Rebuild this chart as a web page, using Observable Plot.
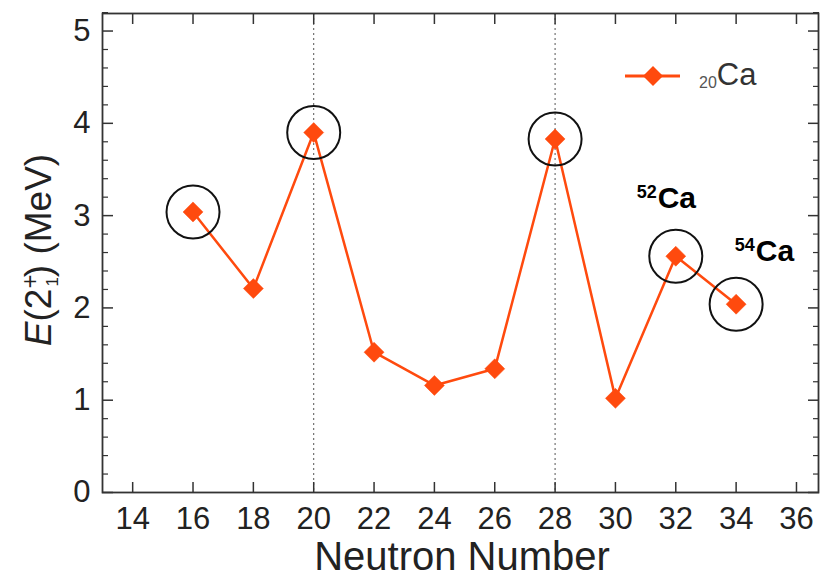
<!DOCTYPE html>
<html><head><meta charset="utf-8">
<script src="https://cdn.jsdelivr.net/npm/d3@7"></script>
<script src="https://cdn.jsdelivr.net/npm/@observablehq/plot@0.6"></script>
<style>
body{margin:0;background:#fff;}
#chart{position:relative;width:821px;height:579px;}
svg text{font-family:"Liberation Sans",Arial,Helvetica,sans-serif;}
</style>
</head><body><div id="chart"></div>
<script>
// Data: 2+ excitation energies of calcium isotopes
const neutrons = [16, 18, 20, 22, 24, 26, 28, 30, 32, 34];
const e2 = [3.04, 2.21, 3.90, 1.52, 1.16, 1.34, 3.83, 1.02, 2.56, 2.04];
const circledN = [16, 20, 28, 32, 34];
const magicN = [20, 28];
const xTicks = [14, 16, 18, 20, 22, 24, 26, 28, 30, 32, 34, 36];
const yTicks = [0, 1, 2, 3, 4, 5];
const yMinor = [0.2, 0.4, 0.6, 0.8, 1.2, 1.4, 1.6, 1.8, 2.2, 2.4, 2.6, 2.8, 3.2, 3.4, 3.6, 3.8, 4.2, 4.4, 4.6, 4.8, 5.2];
const isoLabelX = [31.4, 34.65];
const isoLabelY = [3.08, 2.51];
const isoMass = ["52", "54"];

const points = neutrons.map((n, i) => ({n, e: e2[i]}));
const circled = points.filter(d => circledN.includes(d.n));
const isoLabels = isoMass.map((m, i) => ({x: isoLabelX[i], y: isoLabelY[i], m}));

const orange = "#ff4a0e";
const axisCol = "#333";

const svg = Plot.plot({
  width: 821,
  height: 579,
  marginLeft: 102,
  marginRight: 3,
  marginTop: 13,
  marginBottom: 87,
  style: {fontFamily: '"Liberation Sans", Arial, Helvetica, sans-serif', background: "#fff"},
  x: {domain: [13, 36.73]},
  y: {domain: [0, 5.19]},
  marks: [
    Plot.ruleX(magicN, {stroke: "#555", strokeDasharray: "2,3", strokeWidth: 1}),
    // inward ticks
    Plot.axisX(xTicks, {anchor: "bottom", tickSize: 10, dy: -10, tickFormat: () => "", stroke: axisCol, strokeWidth: 1.5, label: null}),
    Plot.axisX(xTicks, {anchor: "top", tickSize: 10, dy: 10, tickFormat: () => "", stroke: axisCol, strokeWidth: 1.5, label: null}),
    Plot.axisY(yTicks, {anchor: "left", tickSize: 11, dx: 11, tickFormat: () => "", stroke: axisCol, strokeWidth: 1.5, label: null}),
    Plot.axisY(yMinor, {anchor: "left", tickSize: 6, dx: 6, tickFormat: () => "", stroke: axisCol, strokeWidth: 1.2, label: null}),
    Plot.axisY(yTicks, {anchor: "right", tickSize: 11, dx: -11, tickFormat: () => "", stroke: axisCol, strokeWidth: 1.5, label: null}),
    Plot.axisY(yMinor, {anchor: "right", tickSize: 6, dx: -6, tickFormat: () => "", stroke: axisCol, strokeWidth: 1.2, label: null}),
    // tick labels
    Plot.axisX(xTicks, {anchor: "bottom", tickSize: 0, tickPadding: 14, fontSize: 31, fill: "#222", tickFormat: d3.format("d"), label: null}),
    Plot.axisY(yTicks, {anchor: "left", tickSize: 0, tickPadding: 12, fontSize: 31, fill: "#222", tickFormat: d3.format("d"), label: null}),
    Plot.frame({stroke: axisCol, strokeWidth: 1.8}),
    Plot.line(points, {x: "n", y: "e", stroke: orange, strokeWidth: 2.5}),
    Plot.dot(points, {x: "n", y: "e", symbol: "diamond2", r: 9, fill: orange, stroke: orange, strokeWidth: 0.5}),
    Plot.dot(circled, {x: "n", y: "e", r: 26.5, stroke: "#111", strokeWidth: 2, fill: "none"}),
    Plot.text(isoLabels, {x: "x", y: "y", text: () => "Ca", textAnchor: "start", lineAnchor: "bottom", fontSize: 30, fontWeight: "bold", fill: "#000"}),
    Plot.text(isoLabels, {x: "x", y: "y", text: "m", textAnchor: "end", lineAnchor: "bottom", dy: -10, dx: -1, fontSize: 18, fontWeight: "bold", fill: "#000"})
  ]
});
document.getElementById("chart").appendChild(svg);

const s = d3.select(svg);
// y-axis title
const yl = s.append("text")
  .attr("transform", "translate(51,250) rotate(-90)")
  .attr("text-anchor", "middle")
  .attr("fill", "#222")
  .style("font-size", "37px");
yl.append("tspan").style("font-style", "italic").text("E");
yl.append("tspan").text("(2");
yl.append("tspan").attr("dy", "-13").style("font-size", "24px").text("+");
yl.append("tspan").attr("dx", "-12").attr("dy", "20").style("font-size", "17px").text("1");
yl.append("tspan").attr("dy", "-7").text(") (MeV)");

// x-axis title
s.append("text")
  .attr("x", 462).attr("y", 570)
  .attr("text-anchor", "middle")
  .attr("fill", "#222")
  .style("font-size", "40px")
  .text("Neutron Number");

// legend
const lg = s.append("g");
lg.append("line").attr("x1", 625).attr("x2", 680).attr("y1", 76).attr("y2", 76)
  .attr("stroke", orange).attr("stroke-width", 3);
lg.append("path").attr("transform", "translate(653,76)")
  .attr("d", d3.symbol(d3.symbolDiamond2, Math.PI * 81)())
  .attr("fill", orange);
const lt = lg.append("text").attr("x", 699).attr("y", 88).attr("fill", "#333").attr("text-anchor", "start");
lt.append("tspan").style("font-size", "16px").attr("fill", "#555").text("20");
lt.append("tspan").attr("dy", "-3").style("font-size", "31px").text("Ca");
</script>
</body></html>
